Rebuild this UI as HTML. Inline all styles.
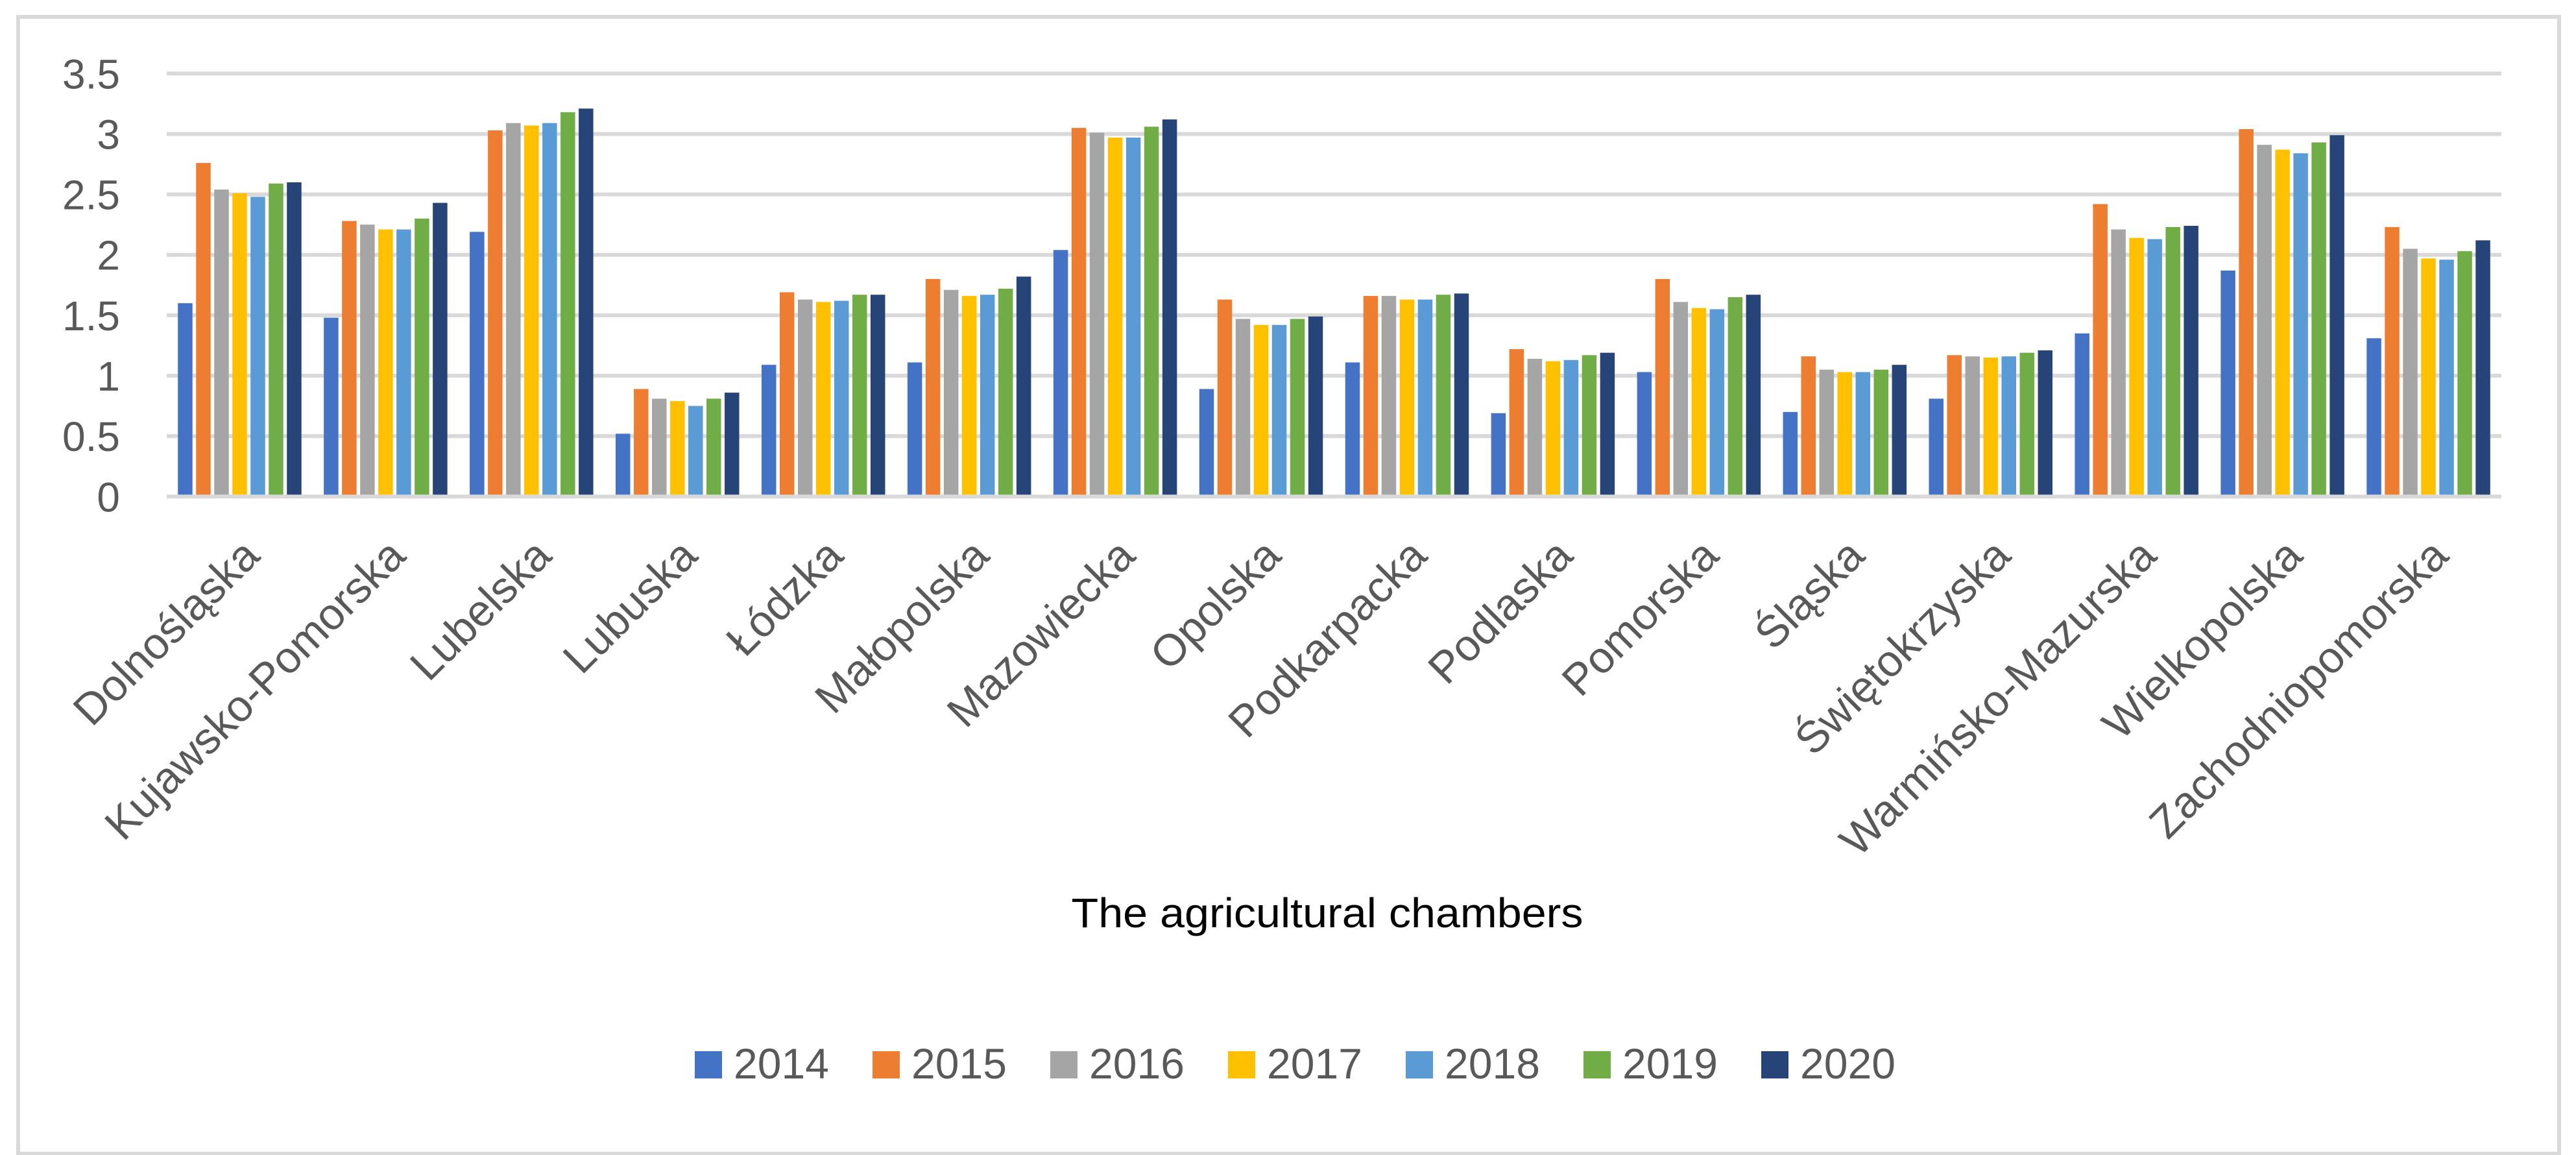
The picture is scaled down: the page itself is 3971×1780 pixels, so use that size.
<!DOCTYPE html>
<html><head><meta charset="utf-8"><style>
html,body{margin:0;padding:0;background:#fff;}
svg{display:block;font-family:"Liberation Sans",sans-serif;}
</style></head><body>
<svg id="chart" width="3971" height="1780" viewBox="0 0 3971 1780" xmlns="http://www.w3.org/2000/svg">
<rect x="28" y="26" width="3917" height="1752" fill="#fff" stroke="#d9d9d9" stroke-width="6"/>
<g id="grid"></g>
<g id="bars"></g>
<g id="ylabels"></g>
<g id="xlabels"></g>
<text x="2046" y="1429" text-anchor="middle" font-size="64" fill="#000" textLength="789" lengthAdjust="spacingAndGlyphs">The agricultural chambers</text>
<g id="legend"></g>
</svg>
<script>
const categories = ["Dolnośląska","Kujawsko-Pomorska","Lubelska","Lubuska","Łódzka","Małopolska","Mazowiecka","Opolska","Podkarpacka","Podlaska","Pomorska","Śląska","Świętokrzyska","Warmińsko-Mazurska","Wielkopolska","Zachodniopomorska"];
const seriesNames = ["2014","2015","2016","2017","2018","2019","2020"];
const seriesColors = ["#4472c4","#ed7d31","#a5a5a5","#ffc000","#5b9bd5","#70ad47","#264478"];
const s2014 = [1.60,1.48,2.19,0.52,1.09,1.11,2.04,0.89,1.11,0.69,1.03,0.70,0.81,1.35,1.87,1.31];
const s2015 = [2.76,2.28,3.03,0.89,1.69,1.80,3.05,1.63,1.66,1.22,1.80,1.16,1.17,2.42,3.04,2.23];
const s2016 = [2.54,2.25,3.09,0.81,1.63,1.71,3.01,1.47,1.66,1.14,1.61,1.05,1.16,2.21,2.91,2.05];
const s2017 = [2.51,2.21,3.07,0.79,1.61,1.66,2.97,1.42,1.63,1.12,1.56,1.03,1.15,2.14,2.87,1.97];
const s2018 = [2.48,2.21,3.09,0.75,1.62,1.67,2.97,1.42,1.63,1.13,1.55,1.03,1.16,2.13,2.84,1.96];
const s2019 = [2.59,2.30,3.18,0.81,1.67,1.72,3.06,1.47,1.67,1.17,1.65,1.05,1.19,2.23,2.93,2.03];
const s2020 = [2.60,2.43,3.21,0.86,1.67,1.82,3.12,1.49,1.68,1.19,1.67,1.09,1.21,2.24,2.99,2.12];
const yTicks = ["0","0.5","1","1.5","2","2.5","3","3.5"];
const yTickValues = [0,0.5,1,1.5,2,2.5,3,3.5];

const series = [s2014,s2015,s2016,s2017,s2018,s2019,s2020];
const NS = "http://www.w3.org/2000/svg";
const plotL = 257, plotR = 3856, plotT = 113.3, plotB = 765.3, yMax = 3.5;
const yScale = v => plotB - (v / yMax) * (plotB - plotT);
const catW = (plotR - plotL) / categories.length;
const xCat = i => plotL + i * catW;
const barStep = 28, barW = 22.5;
function mk(tag, attrs, parent){const e=document.createElementNS(NS,tag);for(const k in attrs)e.setAttribute(k,attrs[k]);parent.appendChild(e);return e;}

const grid = document.getElementById('grid');
const yl = document.getElementById('ylabels');
yTickValues.forEach((v,i)=>{
  const y = yScale(v);
  const l = mk('line',{x1:plotL,x2:plotR,y1:y,y2:y,stroke:'#d9d9d9','stroke-width':6},grid);
  
  
  const t = mk('text',{x:185,y:y+23,'text-anchor':'end','font-size':64,fill:'#595959'},yl);
  t.textContent = yTicks[i];
  
  
});

const bars = document.getElementById('bars');
const groupW = barStep*(seriesNames.length-1)+barW;
categories.forEach((c,i)=>{
  const x0 = xCat(i) + (catW - groupW)/2;
  series.forEach((s,j)=>{
    const y = yScale(s[i]);
    const r = mk('rect',{x:x0+j*barStep,y:y,width:barW,height:plotB-3-y,fill:seriesColors[j]},bars);
    
    
  });
});

const xl = document.getElementById('xlabels');
categories.forEach((c,i)=>{
  const cx = xCat(i) + catW/2 + 34, cy = 860;
  const t = mk('text',{x:cx,y:cy,'text-anchor':'end','font-size':68,fill:'#595959',transform:`rotate(-45 ${cx} ${cy})`},xl);
  t.textContent = c;
  
  
});

const lg = document.getElementById('legend');
seriesNames.forEach((n,j)=>{
  const x = 1071 + j*274;
  const g = mk('g',{},lg);
  
  
  mk('rect',{x:x,y:1620,width:42,height:42,fill:seriesColors[j]},g);
  const t = mk('text',{x:x+60,y:1662,'font-size':66,fill:'#595959',textLength:147,lengthAdjust:'spacingAndGlyphs'},g);
  t.textContent = n;
});
</script>
</body></html>
